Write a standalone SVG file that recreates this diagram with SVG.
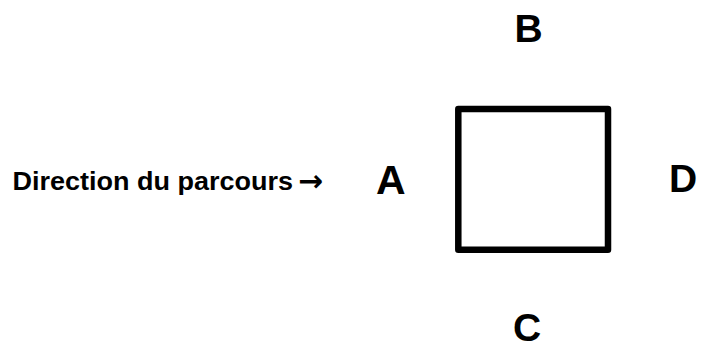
<svg xmlns="http://www.w3.org/2000/svg" width="701" height="343" viewBox="0 0 701 343">
<style>
.lbl{font-family:"Liberation Sans",Arial,sans-serif;font-weight:bold;fill:#000}
.big{font-size:39px}
.cap{font-size:26px}
.arr{font-family:"DejaVu Sans",sans-serif;font-weight:bold;font-size:30px;fill:#000}
</style>
<rect width="701" height="343" fill="#fff"/>
<g id="caption">
<text class="lbl cap" x="12.5" y="189.5" textLength="280.5" lengthAdjust="spacingAndGlyphs">Direction du parcours</text>
<text class="arr" x="298" y="191" textLength="25" lengthAdjust="spacingAndGlyphs">→</text>
</g>
<g id="square">
<rect x="458.3" y="109" width="149.7" height="140.7" fill="none" stroke="#000" stroke-width="6.5" stroke-linejoin="round"/>
</g>
<g id="A"><text class="lbl" style="font-size:41px" x="376" y="194.3">A</text></g>
<g id="B"><text class="lbl big" x="514.5" y="42">B</text></g>
<g id="C"><text class="lbl big" x="513" y="341">C</text></g>
<g id="D"><text class="lbl big" x="669" y="192">D</text></g>
<g id="connectors"></g>
</svg>
